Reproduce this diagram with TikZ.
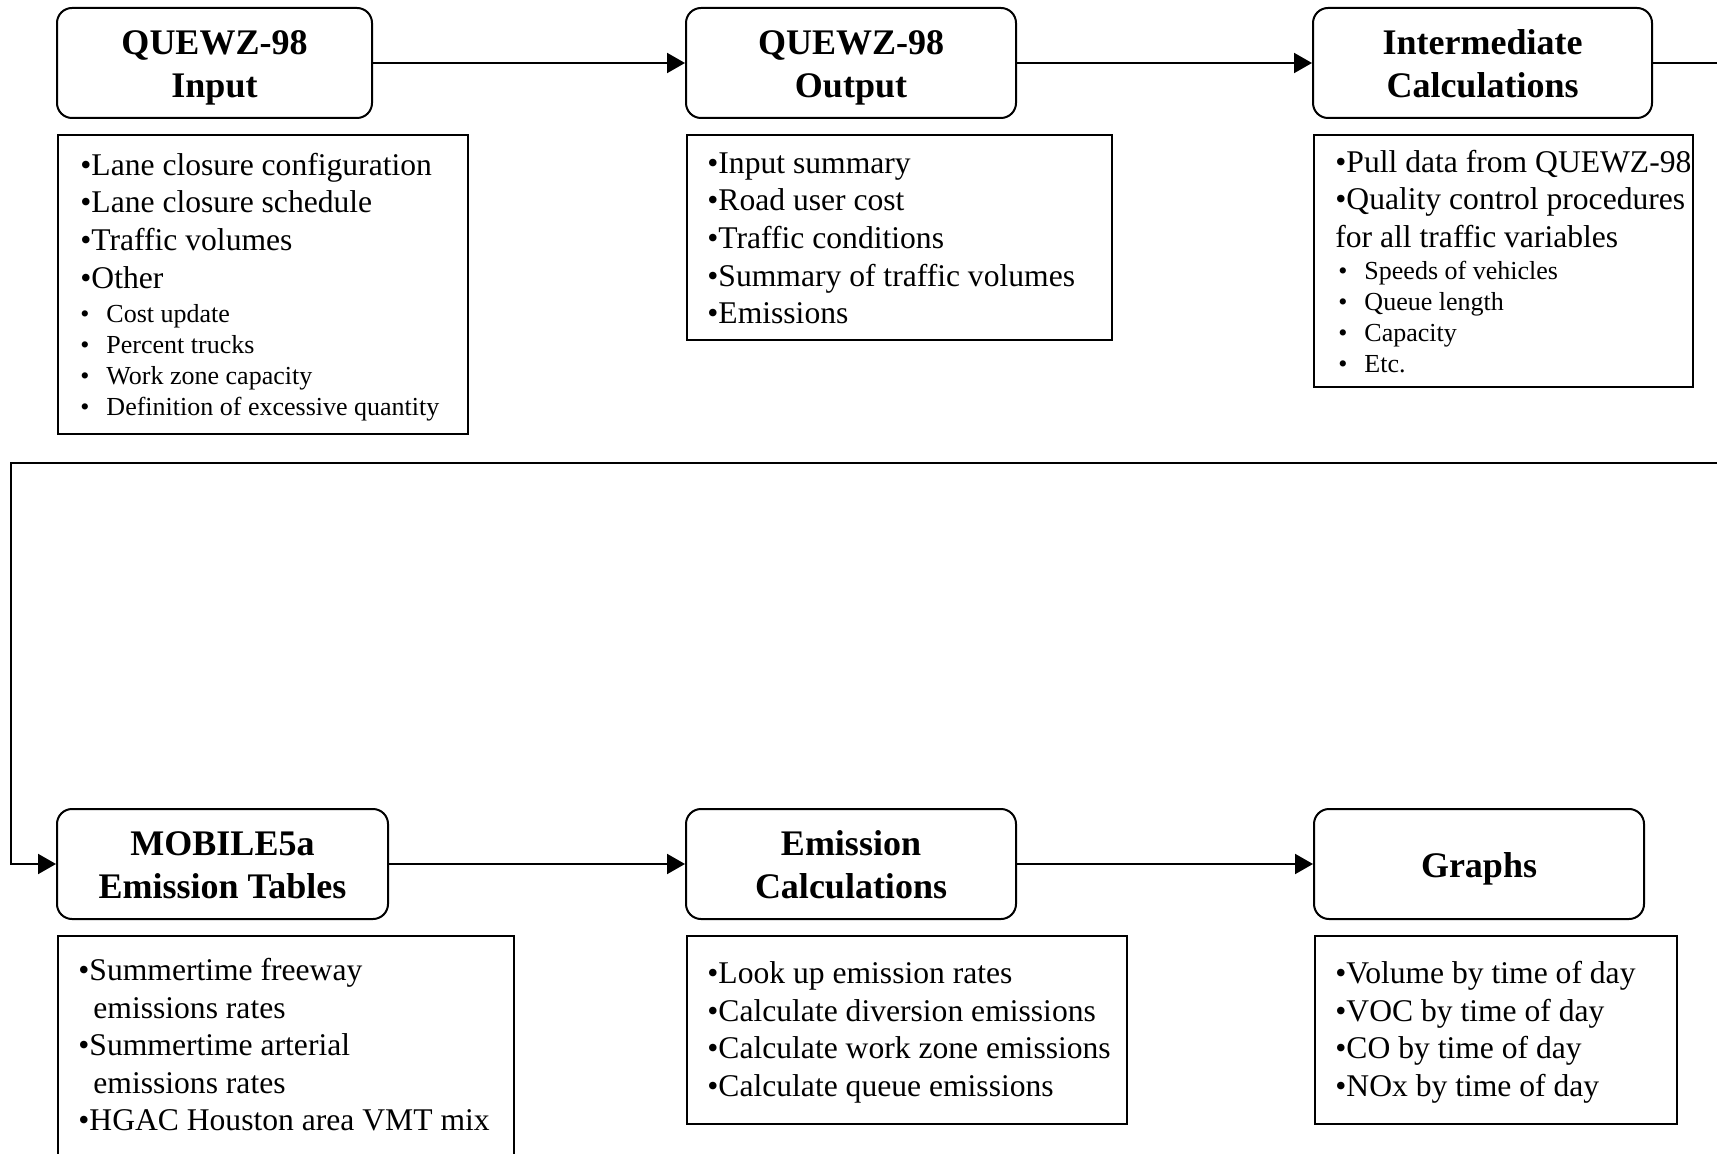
\documentclass[tikz,border=0pt]{standalone}
\usepackage{fontspec}
\setmainfont{Liberation Serif}
\usepackage{tikz}
\usetikzlibrary{arrows.meta}
\setlength{\parindent}{0pt}
\tikzset{%
  tipA/.tip={Triangle[length=9pt,width=10pt]},
  title/.style={draw, line width=1pt, rounded corners=7.5pt, align=center, inner sep=0pt,
    minimum height=55pt, font=\fontsize{18}{21.5}\selectfont\bfseries},
  listbox/.style={draw, line width=1pt, anchor=north west, inner sep=0pt},
  listtext/.style={anchor=north west, align=flush left, inner sep=0pt, text width=#1,
    font=\fontsize{15.8}{18.8}\selectfont},
  flow/.style={line width=1pt, -{tipA}}
}
\newcommand{\firstl}{\spaceskip=0pt\xspaceskip=0pt\rule{0pt}{12pt}}
\newcommand{\sbul}[1]{\textbullet\hspace{8.5pt}#1}
\newcommand{\ttop}{\rule{0pt}{18pt}}
\newcommand{\tbot}{\rule[-5pt]{0pt}{5pt}}

\begin{document}
\begin{tikzpicture}[x=0.5pt,y=-0.5pt]
	\useasboundingbox (0,0) rectangle (1717,1154);
	\clip (0,0) rectangle (1717,1154);
	% top row
	\node[title, minimum width=157.5pt] (inTitle) at (214.5,63) {\ttop QUEWZ-98\\Input\tbot};
	\node[title, minimum width=165pt] (outTitle) at (851,63) {\ttop QUEWZ-98\\Output\tbot};
	\node[title, minimum width=169.5pt] (midTitle) at (1482.5,63) {\ttop Intermediate\\Calculations\tbot};
	\node[listbox, minimum width=205pt, minimum height=149.5pt] (inList) at (57,134) {};
	\node[listtext=200pt] (inText) at ([xshift=11.5pt,yshift=-8.5pt]inList.north west) {%
		\firstl•Lane closure configuration\\
		•Lane closure schedule\\
		•Traffic volumes\\
		•Other\par\vspace{1.5pt}
		{\fontsize{13}{15.5}\selectfont
		\sbul{Cost update}\\
		\sbul{Percent trucks}\\
		\sbul{Work zone capacity}\\
		\sbul{Definition of excessive quantity}\par}};
	\node[listbox, minimum width=212.5pt, minimum height=102.5pt] (outList) at (686,134) {};
	\node[listtext=205pt] (outText) at ([xshift=10.5pt,yshift=-7.5pt]outList.north west) {%
		\firstl•Input summary\\
		•Road user cost\\
		•Traffic conditions\\
		•Summary of traffic volumes\\
		•Emissions};
	\node[listbox, minimum width=189.5pt, minimum height=126pt] (midList) at (1313,134) {};
	\node[listtext=185pt] (midText) at ([xshift=11pt,yshift=-7pt]midList.north west) {%
		\firstl•Pull data from QUEWZ-98\\
		•Quality control procedures\\
		for all traffic variables\par\vspace{0.5pt}
		{\fontsize{13}{15.5}\selectfont
		\hspace*{1.5pt}\sbul{Speeds of vehicles}\\
		\hspace*{1.5pt}\sbul{Queue length}\\
		\hspace*{1.5pt}\sbul{Capacity}\\
		\hspace*{1.5pt}\sbul{Etc.}\par}};
	% bottom row
	\node[title, minimum width=165.5pt] (mobTitle) at (222.5,864) {\ttop MOBILE5a\\Emission Tables\tbot};
	\node[title, minimum width=165pt] (ecTitle) at (851,864) {\ttop Emission\\Calculations\tbot};
	\node[title, minimum width=165pt] (grTitle) at (1479,864) {\ttop Graphs\tbot};
	\node[listbox, minimum width=228pt, minimum height=140pt] (mobList) at (57,935) {};
	\node[listtext=220pt] (mobText) at ([xshift=10.5pt,yshift=-10.5pt]mobList.north west) {%
		\firstl•Summertime freeway\\
		\hspace*{7.5pt}emissions rates\\
		•Summertime arterial\\
		\hspace*{7.5pt}emissions rates\\
		•HGAC Houston area VMT mix};
	\node[listbox, minimum width=220pt, minimum height=94pt] (ecList) at (686,935) {};
	\node[listtext=215pt] (ecText) at ([xshift=10.5pt,yshift=-12pt]ecList.north west) {%
		\firstl•Look up emission rates\\
		•Calculate diversion emissions\\
		•Calculate work zone emissions\\
		•Calculate queue emissions};
	\node[listbox, minimum width=181pt, minimum height=94pt] (grList) at (1314,935) {};
	\node[listtext=175pt] (grText) at ([xshift=10.5pt,yshift=-12pt]grList.north west) {%
		\firstl•Volume by time of day\\
		•VOC by time of day\\
		•CO by time of day\\
		•NOx by time of day};
	% connectors
	\coordinate (turnA) at (1800,463);
	\coordinate (turnB) at (11,463);
	\draw[flow] (inTitle.east) -- (outTitle.west);
	\draw[flow] (outTitle.east) -- (midTitle.west);
	\draw[flow] (midTitle.east) -| (turnA) -- (turnB) |- (mobTitle.west);
	\draw[flow] (mobTitle.east) -- (ecTitle.west);
	\draw[flow] (ecTitle.east) -- (grTitle.west);
\end{tikzpicture}
\end{document}
